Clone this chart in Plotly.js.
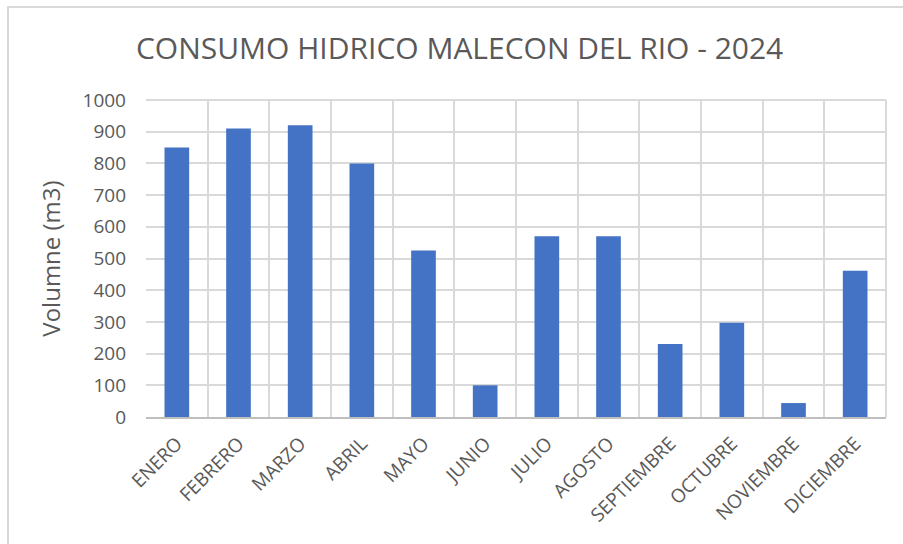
<!DOCTYPE html>
<html>
<head>
<meta charset="utf-8">
<script src="https://cdn.plot.ly/plotly-3.0.1.min.js"></script>
<style>html,body{margin:0;padding:0;background:#fff;}#chart{width:903px;height:544px;}</style>
</head>
<body>
<div id="chart"></div>
<script>
const months = ["ENERO","FEBRERO","MARZO","ABRIL","MAYO","JUNIO","JULIO","AGOSTO","SEPTIEMBRE","OCTUBRE","NOVIEMBRE","DICIEMBRE"];
const volumes = [850, 910, 920, 800, 525, 100, 570, 570, 230, 297, 44, 461];
const yTicks = [0,100,200,300,400,500,600,700,800,900,1000];
const chartTitle = "CONSUMO HIDRICO MALECON DEL RIO - 2024";
const yTitle = "Volumne (m3)";

const fontFam = "'Open Sans', 'Noto Sans', sans-serif";
const trace = {
  type: "bar",
  x: months,
  y: volumes,
  marker: {color: "#4472C4"},
  hoverinfo: "x+y"
};
const layout = {
  width: 903, height: 544,
  margin: {l: 146, r: 17, t: 100, b: 127},
  paper_bgcolor: "#ffffff",
  plot_bgcolor: "#ffffff",
  bargap: 0.6,
  showlegend: false,
  title: {text: chartTitle, x: 0.509, xanchor: "center", y: 0.91, yanchor: "middle",
          font: {family: fontFam, size: 30, color: "#595959"}},
  xaxis: {
    type: "category",
    tickson: "boundaries",
    ticks: "",
    tickangle: -45,
    ticklabelstandoff: 6,
    showgrid: true, gridcolor: "#d9d9d9", gridwidth: 2,
    showline: true, linecolor: "#bfbfbf", linewidth: 2,
    tickfont: {family: fontFam, size: 19, color: "#595959"},
    fixedrange: true
  },
  yaxis: {
    range: [0, 1000],
    tickvals: yTicks,
    ticktext: yTicks.map(String),
    showgrid: true, gridcolor: "#d9d9d9", gridwidth: 2,
    zeroline: false,
    showline: false,
    ticks: "", ticklen: 0,
    ticklabelstandoff: 19,
    tickfont: {family: fontFam, size: 19, color: "#595959"},
    title: {text: yTitle, font: {family: fontFam, size: 24, color: "#595959"}, standoff: 15},
    fixedrange: true
  },
  shapes: [
    {type: "line", xref: "paper", yref: "paper", x0: 1, x1: 1, y0: 0, y1: 1,
     line: {color: "#d9d9d9", width: 2}},
    {type: "line", xref: "paper", yref: "paper", x0: 0, x1: 1, y0: 1, y1: 1,
     line: {color: "#d9d9d9", width: 2}},
    {type: "rect", xref: "paper", yref: "paper",
     x0: -138/740, x1: 1 + 40/740, y0: -160/317, y1: 1 + 93/317,
     line: {color: "#d9d9d9", width: 2}, fillcolor: "rgba(0,0,0,0)", layer: "below"}
  ]
};
Plotly.newPlot("chart", [trace], layout, {displayModeBar: false, staticPlot: true});
</script>
</body>
</html>
